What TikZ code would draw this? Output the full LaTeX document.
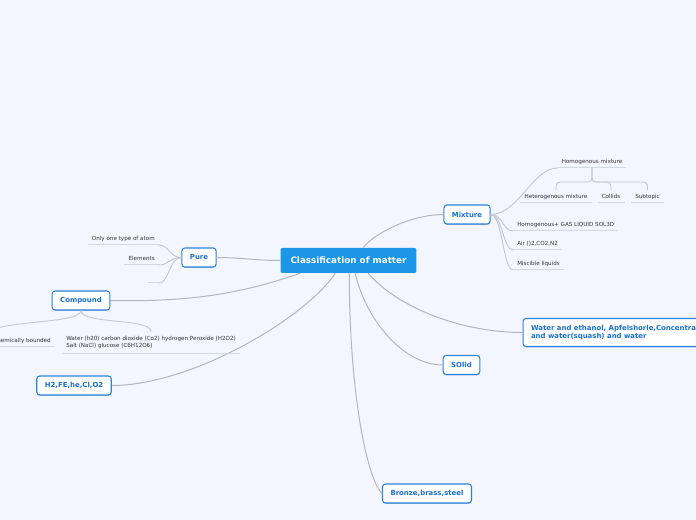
\documentclass[tikz,border=0pt]{standalone}
\usepackage{fontspec}
\setmainfont{DejaVu Sans}
\usetikzlibrary{calc,shadows}
\definecolor{bg}{RGB}{243,246,254}
\definecolor{cfill}{RGB}{28,150,232}
\definecolor{mblue}{RGB}{42,130,222}
\definecolor{mtext}{RGB}{24,112,210}
\definecolor{stext}{RGB}{51,51,51}
\definecolor{connc}{RGB}{178,182,192}
\definecolor{twigc}{RGB}{196,200,208}
\definecolor{ulc}{RGB}{212,216,224}
\tikzset{
  central/.style={fill=cfill, text=white, font=\fontsize{6.6pt}{8pt}\selectfont\bfseries, rounded corners=1.5pt, minimum height=18.75pt, inner xsep=7.5pt, inner ysep=0pt},
  topic/.style={draw=mblue, line width=0.8pt, fill=white, text=mtext, font=\fontsize{5.2pt}{6.6pt}\selectfont\bfseries, rounded corners=2.2pt, minimum height=14.25pt, inner xsep=6pt, inner ysep=2pt, drop shadow={shadow xshift=0pt, shadow yshift=-0.6pt, opacity=0.3, fill=mblue!60!black}},
  uline/.style={draw=ulc, line width=0.75pt},
  sub/.style={text=stext, font=\fontsize{4.2pt}{5.5pt}\selectfont, inner xsep=3pt, inner ysep=3pt, text depth=0pt, append after command={(\tikzlastnode.south west) edge[uline] (\tikzlastnode.south east)}},
  link/.style={draw=connc, line width=0.75pt},
  twig/.style={draw=twigc, line width=0.7pt},
}
\begin{document}
\begin{tikzpicture}[x=0.75pt,y=-0.75pt]
\useasboundingbox (0,0) rectangle (696,520);
\clip (0,0) rectangle (696,520);
\fill[bg] (0,0) rectangle (696,520);

% central and main topics
\node[central] (c) at (348.5,260.5) {Classification of matter};
\node[topic] (mix) at (467,214.5) {Mixture};
\node[topic] (pure) at (199,257.5) {Pure};
\node[topic] (comp) at (81,300.5) {Compound};
\node[topic] (h2) at (74,385.5) {H2,FE,he,Cl,O2};
\node[topic] (solid) at (461.5,365) {SOlid};
\node[topic] (bronze) at (427,493.5) {Bronze,brass,steel};
\node[topic, anchor=west, align=left, minimum height=21pt] (water) at (522.5,332.5) {Water and ethanol, Apfelshorle,Concentrate\\and water(squash) and water};

% central connectors
\draw[link] ($(c.north west)+(83,0)$) .. controls +(10,-14) and +(-32,0) .. (mix.west);
\draw[link] (c.west) .. controls +(-25,0) and +(25,0) .. (pure.east);
\draw[link] ($(c.south west)+(20,0)$) .. controls +(-50,17) and +(90,2) .. (comp.east);
\draw[link] ($(c.south west)+(55,0)$) .. controls +(-30,45) and +(80,0) .. (h2.east);
\draw[link] ($(c.south west)+(75,0)$) .. controls +(10,45) and +(-40,0) .. (solid.west);
\draw[link] ($(c.south west)+(69,0)$) .. controls +(0,120) and +(-15,-15) .. (bronze.west);
\draw[link] ($(c.south west)+(88,0)$) .. controls +(30,35) and +(-60,0) .. (water.west);

% mixture subtopics
\node[sub, anchor=south] (hm) at (592,168) {Homogenous mixture};
\node[sub, anchor=south] (het) at (556,203) {Heterogenous mixture};
\node[sub, anchor=south] (col) at (611,203) {Collids};
\node[sub, anchor=south] (sbt) at (647.5,203) {Subtopic};
\node[sub, anchor=south west] (hg) at (513,231) {Homogenous+ GAS LIQUID SOL3D};
\node[sub, anchor=south west] (air) at (513,250) {Air ()2,CO2,N2};
\node[sub, anchor=south west] (mis) at (513,270) {Miscible liquids};
\draw[twig] (mix.east) .. controls +(28,0) and +(-25,0) .. (hm.south west);
\draw[twig] (mix.east) .. controls +(12,0) and +(-10,0) .. (hg.south west);
\draw[twig] (mix.east) .. controls +(12,0) and +(-10,0) .. (air.south west);
\draw[twig] (mix.east) .. controls +(12,0) and +(-10,0) .. (mis.south west);
\draw[twig, rounded corners=3pt] (hm.south) -- ++(0,14) -| (het.north);
\draw[twig, rounded corners=3pt] (hm.south) -- ++(0,14) -| (col.north);
\draw[twig, rounded corners=3pt] (hm.south) -- ++(0,14) -| (sbt.north);

% pure subtopics
\node[sub, anchor=south east] (p1) at (159,245) {Only one type of atom};
\node[sub, anchor=south east] (p2) at (159,265) {Elements};
\node[sub, anchor=south east, minimum width=8pt] (p3) at (159,283) {};
\draw[twig] (pure.west) .. controls +(-12,0) and +(10,0) .. (p1.south east);
\draw[twig] (pure.west) .. controls +(-12,0) and +(10,0) .. (p2.south east);
\draw[twig] (pure.west) .. controls +(-12,0) and +(10,0) .. (p3.south east);

% compound subtopics
\node[sub, anchor=south west, align=left, text depth=] (cw) at (62,353) {Water (h20) carbon dioxide (Co2) hydrogen Peroxide (H2O2)\\Salt (NaCl) glucose (C6H12O6)};
\node[sub, anchor=south east] (cb) at (55,346.5) {chemically bounded};
\coordinate (cbtop) at (-10,334);
\draw[twig] (comp.south) .. controls +(0,14) and +(0,-14) .. (cw.north);
\draw[twig] (comp.south) .. controls +(0,14) and +(0,-14) .. (cbtop);
\end{tikzpicture}
\end{document}
